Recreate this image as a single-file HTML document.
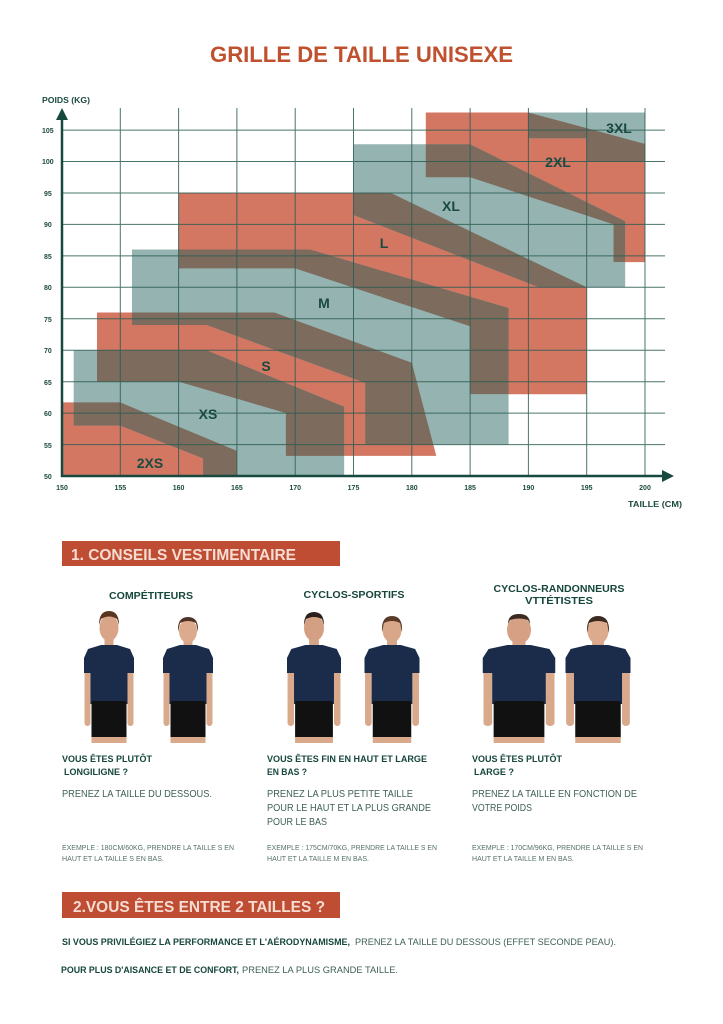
<!DOCTYPE html>
<html><head><meta charset="utf-8"><style>
html,body{margin:0;padding:0;background:#fff;}
svg{display:block;}
text{font-family:"Liberation Sans",sans-serif;}
</style></head><body>
<svg width="723" height="1024" viewBox="0 0 723 1024" xmlns="http://www.w3.org/2000/svg">
<rect width="723" height="1024" fill="#fff"/>
<defs>
<polygon id="p2xs" points="150,61.7 155,61.7 165,54 165,50 150,50"/>
<polygon id="pxs" points="151,70 162.4,70 174.2,61 174.2,50 162.1,50 162.1,52.8 155,58 151,58"/>
<polygon id="ps" points="153,76 168.2,76 180,68 182.1,53.2 169.2,53.2 169.2,60 160,65 153,65"/>
<polygon id="pm" points="156,86 171.3,86 188.3,76.7 188.3,55 176,55 176,64.8 162.4,74 156,74"/>
<polygon id="pl" points="160,95 178.2,95 195,80 195,63 185,63 185,73.8 170,83 160,83"/>
<polygon id="pxl" points="175,102.75 185,102.75 198.3,90.5 198.3,80 190.9,80 175,91.5"/>
<polygon id="p2xl" points="181.2,107.8 190,107.8 200,102.8 200,84 197.3,84 197.3,90 185,97.5 181.2,97.5"/>
<polygon id="p3xl" points="190,107.8 200,107.8 200,100 195,100 195,103.7 190,103.7"/>
<clipPath id="c2xs"><use href="#p2xs"/></clipPath>
<clipPath id="cs"><use href="#ps"/></clipPath>
<clipPath id="cl"><use href="#pl"/></clipPath>
<clipPath id="c2xl"><use href="#p2xl"/></clipPath>
</defs>

<text x="361.5" y="62" text-anchor="middle" font-size="22" font-weight="bold" fill="#c0512f" textLength="303" lengthAdjust="spacingAndGlyphs">GRILLE DE TAILLE UNISEXE</text>

<g transform="matrix(11.66 0 0 -6.29 -1687 790.5)">
<g fill="#d37763">
<use href="#p2xs"/><use href="#ps"/><use href="#pl"/><use href="#p2xl"/>
</g>
<g fill="#95b4b1">
<use href="#pxs"/><use href="#pm"/><use href="#pxl"/><use href="#p3xl"/>
</g>
<g fill="#7d6b5d">
<use href="#pxs" clip-path="url(#c2xs)"/>
<use href="#pxs" clip-path="url(#cs)"/>
<use href="#pm" clip-path="url(#cs)"/>
<use href="#pm" clip-path="url(#cl)"/>
<use href="#pxl" clip-path="url(#cl)"/>
<use href="#pxl" clip-path="url(#c2xl)"/>
<use href="#p3xl" clip-path="url(#c2xl)"/>
</g>
</g>

<g stroke="#2b5c52" stroke-width="1" opacity="0.85">
<line x1="120.3" y1="108" x2="120.3" y2="476"/>
<line x1="178.6" y1="108" x2="178.6" y2="476"/>
<line x1="236.9" y1="108" x2="236.9" y2="476"/>
<line x1="295.2" y1="108" x2="295.2" y2="476"/>
<line x1="353.5" y1="108" x2="353.5" y2="476"/>
<line x1="411.8" y1="108" x2="411.8" y2="476"/>
<line x1="470.1" y1="108" x2="470.1" y2="476"/>
<line x1="528.4" y1="108" x2="528.4" y2="476"/>
<line x1="586.7" y1="108" x2="586.7" y2="476"/>
<line x1="645" y1="108" x2="645" y2="476"/>
<line x1="62" y1="444.6" x2="665" y2="444.6"/>
<line x1="62" y1="413.1" x2="665" y2="413.1"/>
<line x1="62" y1="381.7" x2="665" y2="381.7"/>
<line x1="62" y1="350.2" x2="665" y2="350.2"/>
<line x1="62" y1="318.8" x2="665" y2="318.8"/>
<line x1="62" y1="287.3" x2="665" y2="287.3"/>
<line x1="62" y1="255.9" x2="665" y2="255.9"/>
<line x1="62" y1="224.4" x2="665" y2="224.4"/>
<line x1="62" y1="193" x2="665" y2="193"/>
<line x1="62" y1="161.5" x2="665" y2="161.5"/>
<line x1="62" y1="130.1" x2="665" y2="130.1"/>
</g>
<g stroke="#17493f" stroke-width="2.5">
<line x1="62" y1="115" x2="62" y2="477"/>
<line x1="61" y1="476" x2="664" y2="476"/>
</g>
<polygon points="62,108 56,120 68,120" fill="#17493f"/>
<polygon points="674,476 662,470 662,482" fill="#17493f"/>

<g font-size="7" font-weight="bold" fill="#1d4a40">
<text x="42" y="103" font-size="8" textLength="48" lengthAdjust="spacingAndGlyphs">POIDS (KG)</text>
<text x="44" y="479">50</text><text x="44" y="448">55</text><text x="44" y="416">60</text>
<text x="44" y="385">65</text><text x="44" y="353">70</text><text x="44" y="322">75</text>
<text x="44" y="290">80</text><text x="44" y="259">85</text><text x="44" y="227">90</text>
<text x="44" y="196">95</text><text x="42" y="164">100</text><text x="42" y="133">105</text>
<g text-anchor="middle">
<text x="62" y="490">150</text><text x="120.3" y="490">155</text><text x="178.6" y="490">160</text>
<text x="236.9" y="490">165</text><text x="295.2" y="490">170</text><text x="353.5" y="490">175</text>
<text x="411.8" y="490">180</text><text x="470.1" y="490">185</text><text x="528.4" y="490">190</text>
<text x="586.7" y="490">195</text><text x="645" y="490">200</text>
</g>
<text x="628" y="507" font-size="8" textLength="54" lengthAdjust="spacingAndGlyphs">TAILLE (CM)</text>
</g>

<g font-size="14" font-weight="bold" fill="#1a4a40" text-anchor="middle">
<text x="150" y="468">2XS</text>
<text x="208" y="419">XS</text>
<text x="266" y="371">S</text>
<text x="324" y="308">M</text>
<text x="384" y="248">L</text>
<text x="451" y="211">XL</text>
<text x="558" y="167">2XL</text>
<text x="619" y="133">3XL</text>
</g>

<rect x="62" y="541" width="278" height="25" fill="#bf4d33"/>
<text x="71" y="560" font-size="16" font-weight="bold" fill="#f6ddd3" textLength="225" lengthAdjust="spacingAndGlyphs">1. CONSEILS VESTIMENTAIRE</text>

<g font-size="10" font-weight="bold" fill="#16463c" text-anchor="middle">
<text x="151" y="599" textLength="84" lengthAdjust="spacingAndGlyphs">COMPÉTITEURS</text>
<text x="354" y="598" textLength="101" lengthAdjust="spacingAndGlyphs">CYCLOS-SPORTIFS</text>
<text x="559" y="592" textLength="131" lengthAdjust="spacingAndGlyphs">CYCLOS-RANDONNEURS</text>
<text x="559" y="604" textLength="68" lengthAdjust="spacingAndGlyphs">VTTÉTISTES</text>
</g>

<!-- people -->
<defs>
<g id="person">
<rect x="-24.5" y="668" width="6" height="58" rx="3" fill="#d9a98c"/>
<rect x="18.5" y="668" width="6" height="58" rx="3" fill="#d9a98c"/>
<rect x="-4.5" y="636" width="9" height="12" fill="#d6a487"/>
<polygon points="-8,645 8,645 21,649 25,658 25,673 18.5,673 18.5,704 -18.5,704 -18.5,673 -25,673 -25,658 -21,649" fill="#1b2b4a"/>
<rect x="-17.5" y="701" width="35" height="38" rx="2" fill="#111"/>
<rect x="-17.5" y="737" width="35" height="6" fill="#d9a98c"/>
</g>
</defs>
<g transform="translate(109,0)"><use href="#person"/><ellipse cx="0" cy="628" rx="9.5" ry="13" fill="#d9a487"/><path d="M-10,625 Q-10,611 0,611 Q10,611 10,625 L8,619 Q0,614 -8,619Z" fill="#5a3520"/></g>
<g transform="translate(188,0)"><use href="#person"/><ellipse cx="0" cy="631" rx="9" ry="12" fill="#dcaa8c"/><path d="M-10,632 Q-11,617 0,617 Q11,617 10,632 L8,623 Q0,619 -8,623Z" fill="#4e3224"/></g>
<g transform="translate(314,0) scale(1.08,1)"><use href="#person"/></g>
<g transform="translate(314,0)"><ellipse cx="0" cy="628" rx="10" ry="13" fill="#d4a083"/><path d="M-10,625 Q-10,612 0,612 Q10,612 10,625 L8,619 Q0,615 -8,619Z" fill="#2a1f1a"/></g>
<g transform="translate(392,0) scale(1.1,1)"><use href="#person"/></g>
<g transform="translate(392,0)"><ellipse cx="0" cy="630" rx="9.5" ry="12.5" fill="#d8a689"/><path d="M-10,632 Q-11,616 0,616 Q11,616 10,632 L8,623 Q0,619 -8,623Z" fill="#5a3a28"/></g>
<g transform="translate(519,0) scale(1.45,1)"><use href="#person"/></g>
<g transform="translate(519,0)"><ellipse cx="0" cy="630" rx="12" ry="14" fill="#d6a085"/><path d="M-11,624 Q-11,614 0,614 Q11,614 11,624 L9,620 Q0,617 -9,620Z" fill="#3a2a20"/></g>
<g transform="translate(598,0) scale(1.3,1)"><use href="#person"/></g>
<g transform="translate(598,0)"><ellipse cx="0" cy="631" rx="10.5" ry="13" fill="#dcaa8c"/><path d="M-11,633 Q-12,616 0,616 Q12,616 11,633 L9,623 Q0,619 -9,623Z" fill="#3a2a20"/></g>

<g font-size="9" font-weight="bold" fill="#16463c">
<text x="62" y="762" textLength="90" lengthAdjust="spacingAndGlyphs">VOUS ÊTES PLUTÔT</text>
<text x="64" y="775" textLength="64" lengthAdjust="spacingAndGlyphs">LONGILIGNE ?</text>
<text x="267" y="762" textLength="160" lengthAdjust="spacingAndGlyphs">VOUS ÊTES FIN EN HAUT ET LARGE</text>
<text x="267" y="775" textLength="40" lengthAdjust="spacingAndGlyphs">EN BAS ?</text>
<text x="472" y="762" textLength="90" lengthAdjust="spacingAndGlyphs">VOUS ÊTES PLUTÔT</text>
<text x="474" y="775" textLength="40" lengthAdjust="spacingAndGlyphs">LARGE ?</text>
</g>
<g font-size="10" fill="#3f5f57">
<text x="62" y="797" textLength="150" lengthAdjust="spacingAndGlyphs">PRENEZ LA TAILLE DU DESSOUS.</text>
<text x="267" y="797" textLength="146" lengthAdjust="spacingAndGlyphs">PRENEZ LA PLUS PETITE TAILLE</text>
<text x="267" y="811" textLength="164" lengthAdjust="spacingAndGlyphs">POUR LE HAUT ET LA PLUS GRANDE</text>
<text x="267" y="825" textLength="60" lengthAdjust="spacingAndGlyphs">POUR LE BAS</text>
<text x="472" y="797" textLength="165" lengthAdjust="spacingAndGlyphs">PRENEZ LA TAILLE EN FONCTION DE</text>
<text x="472" y="811" textLength="60" lengthAdjust="spacingAndGlyphs">VOTRE POIDS</text>
</g>
<g font-size="7" fill="#56716b">
<text x="62" y="850" textLength="172" lengthAdjust="spacingAndGlyphs">EXEMPLE : 180CM/60KG, PRENDRE LA TAILLE S EN</text>
<text x="62" y="861" textLength="102" lengthAdjust="spacingAndGlyphs">HAUT ET LA TAILLE S EN BAS.</text>
<text x="267" y="850" textLength="170" lengthAdjust="spacingAndGlyphs">EXEMPLE : 175CM/70KG, PRENDRE LA TAILLE S EN</text>
<text x="267" y="861" textLength="102" lengthAdjust="spacingAndGlyphs">HAUT ET LA TAILLE M EN BAS.</text>
<text x="472" y="850" textLength="171" lengthAdjust="spacingAndGlyphs">EXEMPLE : 170CM/96KG, PRENDRE LA TAILLE S EN</text>
<text x="472" y="861" textLength="102" lengthAdjust="spacingAndGlyphs">HAUT ET LA TAILLE M EN BAS.</text>
</g>

<rect x="62" y="892" width="278" height="26" fill="#bf4d33"/>
<text x="73" y="912" font-size="16" font-weight="bold" fill="#f6ddd3" textLength="252" lengthAdjust="spacingAndGlyphs">2.VOUS ÊTES ENTRE 2 TAILLES ?</text>

<text x="62" y="945" font-size="9" font-weight="bold" fill="#16463c" textLength="288" lengthAdjust="spacingAndGlyphs">SI VOUS PRIVILÉGIEZ LA PERFORMANCE ET L'AÉRODYNAMISME,</text>
<text x="355" y="945" font-size="9.5" fill="#3f5f57" textLength="261" lengthAdjust="spacingAndGlyphs">PRENEZ LA TAILLE DU DESSOUS (EFFET SECONDE PEAU).</text>
<text x="61" y="973" font-size="9" font-weight="bold" fill="#16463c" textLength="178" lengthAdjust="spacingAndGlyphs">POUR PLUS D'AISANCE ET DE CONFORT,</text>
<text x="242" y="973" font-size="9.5" fill="#3f5f57" textLength="156" lengthAdjust="spacingAndGlyphs">PRENEZ LA PLUS GRANDE TAILLE.</text>
</svg>
</body></html>
